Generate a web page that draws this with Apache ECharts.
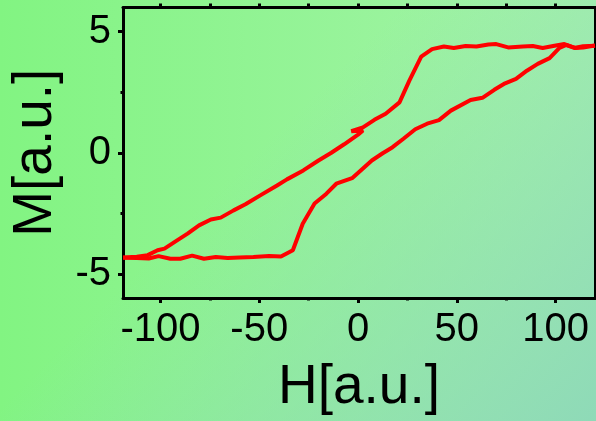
<!DOCTYPE html>
<html>
<head>
<meta charset="utf-8">
<script src="https://cdn.jsdelivr.net/npm/echarts@6/dist/echarts.min.js"></script>
<style>
html,body{margin:0;padding:0;}
#chart{width:596px;height:421px;
background:
 linear-gradient(135deg, rgba(140,215,185,0) 40%, rgba(140,215,185,0.9) 100%),
 linear-gradient(to right, #82f482, #a6f3ab);}
</style>
</head>
<body>
<div id="chart"></div>
<script>
// Ascending branch (H increasing)
const H_up = [-119, -112, -106, -101, -95, -90, -84, -78, -72, -66, -60, -53, -45, -39, -33, -28, -22, -16, -11, -3, 7, 12.5, 17.5, 23, 29, 35, 41, 47, 57, 63, 69, 74.5, 80, 85.5, 91, 97, 102, 105.5, 110, 114, 120];
const M_up = [-4.34, -4.35, -4.37, -4.27, -4.38, -4.38, -4.25, -4.38, -4.31, -4.35, -4.33, -4.31, -4.27, -4.29, -4.03, -2.93, -2.1, -1.69, -1.28, -1.05, -0.32, -0.02, 0.23, 0.58, 0.97, 1.2, 1.35, 1.74, 2.18, 2.27, 2.6, 2.87, 3.05, 3.39, 3.67, 3.91, 4.33, 4.45, 4.33, 4.35, 4.43];
// Descending branch (H decreasing)
const H_dn = [120, 114, 109.5, 104.5, 99.5, 93.5, 88.5, 83.5, 76, 70, 66, 60, 54.5, 48.5, 43.5, 37.5, 32, 26, 21, 14, 8.3, 2.5, -3.4, 2.5, 0, -7, -13.5, -20, -27.7, -36, -41, -49.5, -57, -63, -69.5, -74.5, -80.5, -86.3, -92, -98, -101.5, -106.5, -112, -119];
const M_dn = [4.42, 4.4, 4.33, 4.49, 4.42, 4.33, 4.41, 4.39, 4.35, 4.49, 4.47, 4.39, 4.41, 4.33, 4.39, 4.28, 3.97, 2.98, 2.08, 1.61, 1.36, 1.05, 0.89, 0.92, 0.75, 0.35, 0.0, -0.32, -0.73, -1.1, -1.35, -1.76, -2.13, -2.38, -2.68, -2.76, -3.0, -3.34, -3.64, -3.96, -4.03, -4.23, -4.3, -4.33];

const xMajor = [-100, -50, 0, 50, 100];
const xMinor = [-75, -25, 25, 75];
const yMajor = [-5, 0, 5];
const yMinor = [-2.5, 2.5];
const xName = 'H[a.u.]';
const yName = 'M[a.u.]';

const FONT = '"Liberation Sans", Arial, sans-serif';
const chart = echarts.init(document.getElementById('chart'), null, {renderer:'canvas'});
const xr = {min:-119, max:120};
const yr = {min:-6, max:6};
function axLine(show){ return {show:show, onZero:false, lineStyle:{color:'#000', width:3}}; }
function blankX(pos, ticks, len, extra){
  return Object.assign({type:'value', position:pos, min:xr.min, max:xr.max,
    axisLine: axLine(true), splitLine:{show:false},
    axisTick:{show:true, inside:false, length:len, customValues:ticks, lineStyle:{color:'#000', width:3}},
    axisLabel:{show:false}}, extra||{});
}
function blankY(pos, ticks, len, extra){
  return Object.assign({type:'value', position:pos, min:yr.min, max:yr.max,
    axisLine: axLine(true), splitLine:{show:false},
    axisTick:{show:true, inside:false, length:len, customValues:ticks, lineStyle:{color:'#000', width:3}},
    axisLabel:{show:false}}, extra||{});
}
chart.setOption({
  animation:false,
  grid:{left:120, right:1, top:7.5, bottom:123, containLabel:false},
  xAxis:[
    blankX('bottom', xMajor, 5, {
      axisLabel:{show:true, customValues:xMajor, fontSize:40, color:'#000', fontFamily:FONT, margin:12},
      name:xName, nameLocation:'middle', nameGap:62,
      nameTextStyle:{fontSize:55, color:'#000', fontFamily:FONT}
    }),
    blankX('bottom', xMinor, 2.5, {axisLine:axLine(false)}),
    blankX('top', xMajor.concat(xMinor), 4)
  ],
  yAxis:[
    blankY('left', yMajor, 5, {
      axisLabel:{show:true, customValues:yMajor, fontSize:40, color:'#000', fontFamily:FONT, margin:12},
      name:yName, nameLocation:'middle', nameGap:60,
      nameTextStyle:{fontSize:55, color:'#000', fontFamily:FONT}
    }),
    blankY('left', yMinor, 2.5, {axisLine:axLine(false)}),
    blankY('right', yMajor.concat(yMinor), 4)
  ],
  series:[
    {type:'line', xAxisIndex:0, yAxisIndex:0, symbol:'none', data:H_up.map((h,i)=>[h,M_up[i]]),
     lineStyle:{color:'#ff0000', width:4}, clip:true},
    {type:'line', xAxisIndex:0, yAxisIndex:0, symbol:'none', data:H_dn.map((h,i)=>[h,M_dn[i]]),
     lineStyle:{color:'#ff0000', width:4}, clip:true}
  ]
});
</script>
</body>
</html>
